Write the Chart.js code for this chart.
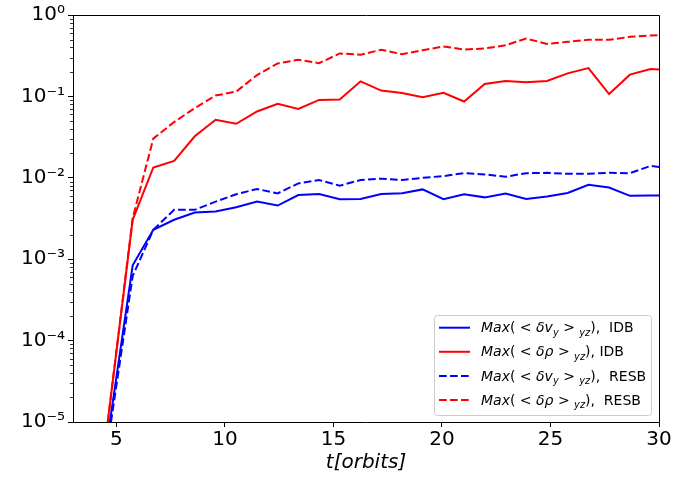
<!DOCTYPE html>
<html lang="en">
<head>
    <meta charset="UTF-8">
    <script src="https://cdn.jsdelivr.net/npm/chart.js"></script>
    <title>Max perturbation growth</title>
    <style>
        html, body {
            margin: 0;
            padding: 0;
            background: #fff;
        }
    </style>
</head>

<body>
    <canvas id="growthChart" width="699" height="481"></canvas>

    <script>
        // time of each snapshot, in orbits
        const orbits = [4.6, 5.75, 6.70, 7.66, 8.61, 9.57, 10.52, 11.48, 12.43, 13.38, 14.34,
            15.29, 16.25, 17.20, 18.16, 19.11, 20.07, 21.02, 21.97, 22.93, 23.88,
            24.84, 25.79, 26.75, 27.70, 28.66, 29.61, 30.57];

        const vyIDB = [6.6e-6, 8.4e-4, 2.3e-3, 3.05e-3, 3.74e-3, 3.85e-3, 4.35e-3, 5.1e-3, 4.56e-3, 6.15e-3,
            6.33e-3, 5.45e-3, 5.5e-3, 6.33e-3, 6.44e-3, 7.2e-3, 5.45e-3, 6.27e-3, 5.75e-3, 6.4e-3,
            5.5e-3, 5.9e-3, 6.5e-3, 8.2e-3, 7.6e-3, 6.0e-3, 6.05e-3, 6.1e-3];
        const rhoIDB = [1e-5, 3.05e-3, 0.0134, 0.0161, 0.0324, 0.0516, 0.0461, 0.0653, 0.081, 0.0703,
            0.0906, 0.0916, 0.153, 0.118, 0.110, 0.0977, 0.111, 0.0865, 0.142, 0.155,
            0.149, 0.155, 0.192, 0.223, 0.107, 0.185, 0.217, 0.21];
        const vyRESB = [5.4e-6, 6.2e-4, 2.3e-3, 4.04e-3, 4.04e-3, 5.1e-3, 6.27e-3, 7.29e-3, 6.44e-3, 8.53e-3,
            9.39e-3, 8.0e-3, 9.39e-3, 9.74e-3, 9.39e-3, 1.0e-2, 1.05e-2, 1.14e-2, 1.10e-2, 1.03e-2,
            1.14e-2, 1.15e-2, 1.12e-2, 1.12e-2, 1.15e-2, 1.14e-2, 1.40e-2, 1.3e-2];
        const rhoRESB = [1e-5, 3.2e-3, 0.0303, 0.0484, 0.0717, 0.1025, 0.1146, 0.183, 0.254, 0.282,
            0.256, 0.337, 0.325, 0.374, 0.330, 0.370, 0.410, 0.377, 0.388, 0.425,
            0.514, 0.442, 0.468, 0.495, 0.495, 0.539, 0.559, 0.575];

        // $..$ = italic, _{..} = subscript
        const seriesLabels = [
            '$Max$( < $δv$_{y} > _{yz}),  IDB',
            '$Max$( < $δρ$ > _{yz}), IDB',
            '$Max$( < $δv$_{y} > _{yz}),  RESB',
            '$Max$( < $δρ$ > _{yz}),  RESB'
        ];

        const xTicks = [5, 10, 15, 20, 25, 30];
        const yTicks = [1e-5, 1e-4, 1e-3, 1e-2, 1e-1, 1];
        const yTickLabels = ['10⁻⁵', '10⁻⁴', '10⁻³', '10⁻²', '10⁻¹', '10⁰'];

        const DASH = [7.7, 3.3];

        function plainLabel(s) {
            return s.replace(/\$/g, '').replace(/_\{([^}]*)\}/g, '$1');
        }

        function drawRich(ctx, text, x, y, size) {
            text.split(/(\$[^$]*\$|_\{[^}]*\})/).forEach(part => {
                if (!part) return;
                let t = part, style = '', s = size, dy = 0;
                if (part[0] === '$') {
                    t = part.slice(1, -1);
                    style = 'italic ';
                } else if (part.startsWith('_{')) {
                    t = part.slice(2, -1);
                    style = 'italic ';
                    s = size * 0.7;
                    dy = size * 0.25;
                }
                ctx.font = style + s + 'px "DejaVu Sans"';
                ctx.fillText(t, x, y + dy);
                x += ctx.measureText(t).width;
            });
        }

        function series(values, label, color, dashed) {
            return {
                label: plainLabel(label),
                data: values.map((v, i) => ({ x: orbits[i], y: v })),
                borderColor: color,
                backgroundColor: color,
                borderWidth: 2,
                borderDash: dashed ? DASH : [],
                pointRadius: 0,
                tension: 0,
                fill: false,
                clip: 0
            };
        }

        // box on all four sides, minor log ticks, legend
        const framePlugin = {
            id: 'frame',
            afterDraw(chart) {
                const ctx = chart.ctx;
                const a = chart.chartArea;
                const y = chart.scales.y;
                ctx.save();
                ctx.strokeStyle = '#000';
                ctx.lineWidth = 1;
                ctx.beginPath();
                ctx.moveTo(Math.round(a.left) + 0.5, Math.round(a.top) + 0.5);
                ctx.lineTo(Math.round(a.right) + 0.5, Math.round(a.top) + 0.5);
                ctx.lineTo(Math.round(a.right) + 0.5, Math.round(a.bottom) + 0.5);
                ctx.stroke();

                ctx.lineWidth = 0.8;
                ctx.beginPath();
                for (let d = -5; d < 0; d++) {
                    for (let m = 2; m <= 9; m++) {
                        const py = Math.round(y.getPixelForValue(m * Math.pow(10, d))) + 0.5;
                        ctx.moveTo(a.left - 3, py);
                        ctx.lineTo(a.left, py);
                    }
                }
                ctx.stroke();

                // legend
                const bx = 434.5, by = 315.5, bw = 217, bh = 100, r = 3;
                ctx.beginPath();
                ctx.roundRect(bx, by, bw, bh, r);
                ctx.fillStyle = 'rgba(255,255,255,0.8)';
                ctx.fill();
                ctx.strokeStyle = '#cccccc';
                ctx.lineWidth = 1;
                ctx.stroke();

                chart.data.datasets.forEach((ds, i) => {
                    const base = 332.3 + i * 24.1;
                    const ly = base - 4.6;
                    ctx.beginPath();
                    ctx.setLineDash(ds.borderDash);
                    ctx.strokeStyle = ds.borderColor;
                    ctx.lineWidth = 2;
                    ctx.moveTo(439, ly);
                    ctx.lineTo(470, ly);
                    ctx.stroke();
                    ctx.setLineDash([]);
                    ctx.fillStyle = '#000';
                    ctx.textBaseline = 'alphabetic';
                    ctx.textAlign = 'left';
                    drawRich(ctx, seriesLabels[i], 481, base, 14);
                });
                ctx.restore();
            }
        };

        const ctx = document.getElementById('growthChart').getContext('2d');
        new Chart(ctx, {
            type: 'line',
            data: {
                datasets: [
                    series(vyIDB, seriesLabels[0], '#0000ff', false),
                    series(rhoIDB, seriesLabels[1], '#ff0000', false),
                    series(vyRESB, seriesLabels[2], '#0000ff', true),
                    series(rhoRESB, seriesLabels[3], '#ff0000', true)
                ]
            },
            options: {
                responsive: false,
                animation: false,
                devicePixelRatio: 1,
                layout: { padding: { top: 12, right: 40, left: 0, bottom: 0 } },
                plugins: {
                    legend: { display: false },
                    tooltip: { enabled: false }
                },
                scales: {
                    x: {
                        type: 'linear',
                        min: 3,
                        max: 30,
                        afterBuildTicks: s => { s.ticks = xTicks.map(v => ({ value: v })); },
                        afterFit: s => { s.height = 59; },
                        grid: { drawOnChartArea: false, tickLength: 5, tickColor: '#000' },
                        border: { color: '#000', width: 1 },
                        ticks: {
                            color: '#000',
                            padding: 1,
                            maxRotation: 0,
                            font: { family: 'DejaVu Sans', size: 20 }
                        },
                        title: {
                            display: true,
                            text: 't[orbits]',
                            color: '#000',
                            padding: { top: 0, bottom: 6 },
                            font: { family: 'DejaVu Sans', size: 20, style: 'italic' }
                        }
                    },
                    y: {
                        type: 'logarithmic',
                        min: 1e-5,
                        max: 1,
                        afterBuildTicks: s => { s.ticks = yTicks.map(v => ({ value: v })); },
                        afterFit: s => { s.width = 73; },
                        grid: { drawOnChartArea: false, tickLength: 5, tickColor: '#000' },
                        border: { color: '#000', width: 1 },
                        ticks: {
                            color: '#000',
                            padding: 3,
                            font: { family: 'DejaVu Sans', size: 20 },
                            callback: (v, i) => yTickLabels[i]
                        }
                    }
                }
            },
            plugins: [framePlugin]
        });
    </script>
</body>

</html>
